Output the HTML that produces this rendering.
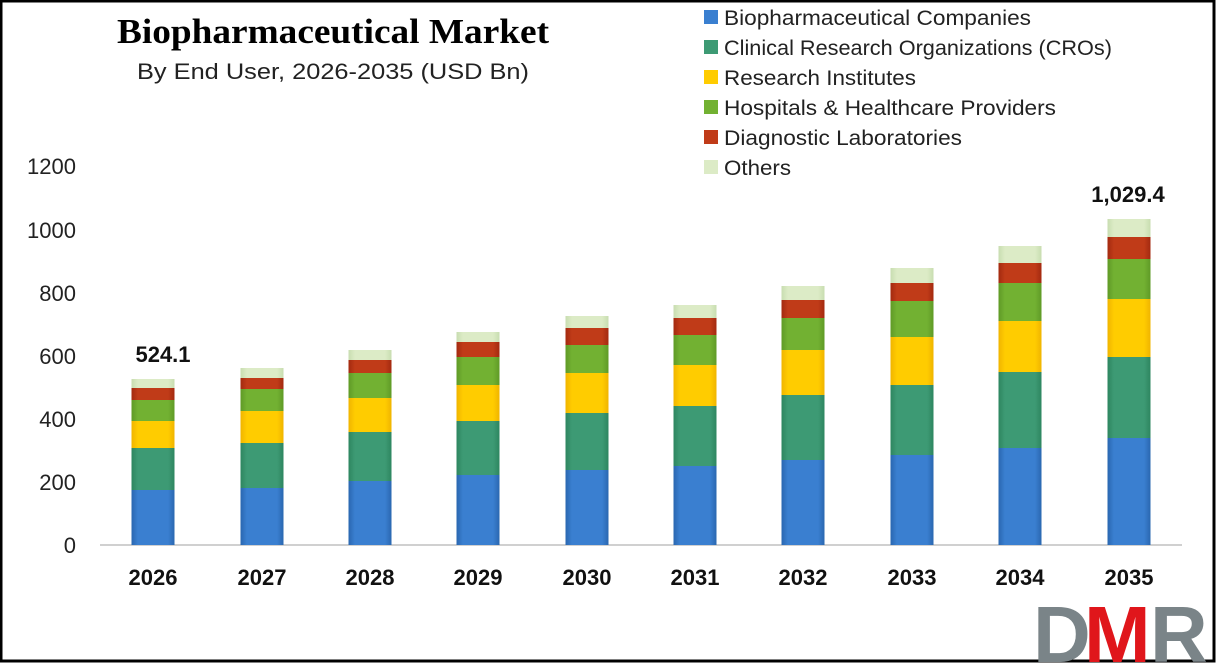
<!DOCTYPE html>
<html><head><meta charset="utf-8"><style>
html,body{margin:0;padding:0;background:#fff}
svg{display:block}
text{font-family:"Liberation Sans",sans-serif}
</style></head><body>
<svg width="1216" height="663" viewBox="0 0 1216 663" xmlns="http://www.w3.org/2000/svg">
<defs>
<linearGradient id="g0" x1="0" x2="1"><stop offset="0" stop-color="#2a67b0"/><stop offset=".15" stop-color="#3a7fd0"/><stop offset=".85" stop-color="#3a7fd0"/><stop offset="1" stop-color="#2a67b0"/></linearGradient>
<linearGradient id="g1" x1="0" x2="1"><stop offset="0" stop-color="#2e8660"/><stop offset=".15" stop-color="#3d9a74"/><stop offset=".85" stop-color="#3d9a74"/><stop offset="1" stop-color="#2e8660"/></linearGradient>
<linearGradient id="g2" x1="0" x2="1"><stop offset="0" stop-color="#f0b400"/><stop offset=".15" stop-color="#ffcc00"/><stop offset=".85" stop-color="#ffcc00"/><stop offset="1" stop-color="#f0b400"/></linearGradient>
<linearGradient id="g3" x1="0" x2="1"><stop offset="0" stop-color="#5f9a26"/><stop offset=".15" stop-color="#72b132"/><stop offset=".85" stop-color="#72b132"/><stop offset="1" stop-color="#5f9a26"/></linearGradient>
<linearGradient id="g4" x1="0" x2="1"><stop offset="0" stop-color="#a32a10"/><stop offset=".15" stop-color="#c03b18"/><stop offset=".85" stop-color="#c03b18"/><stop offset="1" stop-color="#a32a10"/></linearGradient>
<linearGradient id="g5" x1="0" x2="1"><stop offset="0" stop-color="#c8ddb0"/><stop offset=".15" stop-color="#dcebc6"/><stop offset=".85" stop-color="#dcebc6"/><stop offset="1" stop-color="#c8ddb0"/></linearGradient>
</defs>
<rect x="1" y="1" width="1213" height="660" fill="#fff" stroke="#000" stroke-width="3"/>
<text x="117" y="43" textLength="432" lengthAdjust="spacingAndGlyphs" font-weight="bold" font-size="35" style="font-family:'Liberation Serif',serif">Biopharmaceutical Market</text>
<text x="137" y="79" textLength="392" lengthAdjust="spacingAndGlyphs" font-size="22" fill="#222">By End User, 2026-2035 (USD Bn)</text>
<g font-size="21" fill="#222">
<rect x="704" y="10" width="14" height="14" fill="#3a7fd0"/><text x="724" y="25" textLength="307" lengthAdjust="spacingAndGlyphs">Biopharmaceutical Companies</text>
<rect x="704" y="40" width="14" height="14" fill="#3d9a74"/><text x="724" y="55" textLength="388" lengthAdjust="spacingAndGlyphs">Clinical Research Organizations (CROs)</text>
<rect x="704" y="70" width="14" height="14" fill="#ffcc00"/><text x="724" y="85" textLength="192" lengthAdjust="spacingAndGlyphs">Research Institutes</text>
<rect x="704" y="100" width="14" height="14" fill="#72b132"/><text x="724" y="115" textLength="332" lengthAdjust="spacingAndGlyphs">Hospitals &amp; Healthcare Providers</text>
<rect x="704" y="130" width="14" height="14" fill="#c03b18"/><text x="724" y="145" textLength="238" lengthAdjust="spacingAndGlyphs">Diagnostic Laboratories</text>
<rect x="704" y="160" width="14" height="14" fill="#dcebc6"/><text x="724" y="175" textLength="67" lengthAdjust="spacingAndGlyphs">Others</text>
</g>
<g font-size="22" fill="#222" text-anchor="end">
<text x="76" y="553">0</text><text x="76" y="490">200</text><text x="76" y="427">400</text><text x="76" y="364">600</text><text x="76" y="301">800</text><text x="76" y="238">1000</text><text x="76" y="174">1200</text>
</g>
<line x1="100" y1="545" x2="1182" y2="545" stroke="#d0d0d0" stroke-width="2"/>
<g>
<rect x="131.5" y="490" width="43" height="55" fill="url(#g0)"/><rect x="131.5" y="448" width="43" height="42" fill="url(#g1)"/><rect x="131.5" y="421" width="43" height="27" fill="url(#g2)"/><rect x="131.5" y="400" width="43" height="21" fill="url(#g3)"/><rect x="131.5" y="388" width="43" height="12" fill="url(#g4)"/><rect x="131.5" y="379" width="43" height="9" fill="url(#g5)"/>
<rect x="240.5" y="488" width="43" height="57" fill="url(#g0)"/><rect x="240.5" y="443" width="43" height="45" fill="url(#g1)"/><rect x="240.5" y="411" width="43" height="32" fill="url(#g2)"/><rect x="240.5" y="389" width="43" height="22" fill="url(#g3)"/><rect x="240.5" y="378" width="43" height="11" fill="url(#g4)"/><rect x="240.5" y="368" width="43" height="10" fill="url(#g5)"/>
<rect x="348.5" y="481" width="43" height="64" fill="url(#g0)"/><rect x="348.5" y="432" width="43" height="49" fill="url(#g1)"/><rect x="348.5" y="398" width="43" height="34" fill="url(#g2)"/><rect x="348.5" y="373" width="43" height="25" fill="url(#g3)"/><rect x="348.5" y="360" width="43" height="13" fill="url(#g4)"/><rect x="348.5" y="350" width="43" height="10" fill="url(#g5)"/>
<rect x="456.5" y="475" width="43" height="70" fill="url(#g0)"/><rect x="456.5" y="421" width="43" height="54" fill="url(#g1)"/><rect x="456.5" y="385" width="43" height="36" fill="url(#g2)"/><rect x="456.5" y="357" width="43" height="28" fill="url(#g3)"/><rect x="456.5" y="342" width="43" height="15" fill="url(#g4)"/><rect x="456.5" y="332" width="43" height="10" fill="url(#g5)"/>
<rect x="565.5" y="470" width="43" height="75" fill="url(#g0)"/><rect x="565.5" y="413" width="43" height="57" fill="url(#g1)"/><rect x="565.5" y="373" width="43" height="40" fill="url(#g2)"/><rect x="565.5" y="345" width="43" height="28" fill="url(#g3)"/><rect x="565.5" y="328" width="43" height="17" fill="url(#g4)"/><rect x="565.5" y="316" width="43" height="12" fill="url(#g5)"/>
<rect x="673.5" y="466" width="43" height="79" fill="url(#g0)"/><rect x="673.5" y="406" width="43" height="60" fill="url(#g1)"/><rect x="673.5" y="365" width="43" height="41" fill="url(#g2)"/><rect x="673.5" y="335" width="43" height="30" fill="url(#g3)"/><rect x="673.5" y="318" width="43" height="17" fill="url(#g4)"/><rect x="673.5" y="305" width="43" height="13" fill="url(#g5)"/>
<rect x="781.5" y="460" width="43" height="85" fill="url(#g0)"/><rect x="781.5" y="395" width="43" height="65" fill="url(#g1)"/><rect x="781.5" y="350" width="43" height="45" fill="url(#g2)"/><rect x="781.5" y="318" width="43" height="32" fill="url(#g3)"/><rect x="781.5" y="300" width="43" height="18" fill="url(#g4)"/><rect x="781.5" y="286" width="43" height="14" fill="url(#g5)"/>
<rect x="890.5" y="455" width="43" height="90" fill="url(#g0)"/><rect x="890.5" y="385" width="43" height="70" fill="url(#g1)"/><rect x="890.5" y="337" width="43" height="48" fill="url(#g2)"/><rect x="890.5" y="301" width="43" height="36" fill="url(#g3)"/><rect x="890.5" y="283" width="43" height="18" fill="url(#g4)"/><rect x="890.5" y="268" width="43" height="15" fill="url(#g5)"/>
<rect x="998.5" y="448" width="43" height="97" fill="url(#g0)"/><rect x="998.5" y="372" width="43" height="76" fill="url(#g1)"/><rect x="998.5" y="321" width="43" height="51" fill="url(#g2)"/><rect x="998.5" y="283" width="43" height="38" fill="url(#g3)"/><rect x="998.5" y="263" width="43" height="20" fill="url(#g4)"/><rect x="998.5" y="246" width="43" height="17" fill="url(#g5)"/>
<rect x="1107.5" y="438" width="43" height="107" fill="url(#g0)"/><rect x="1107.5" y="357" width="43" height="81" fill="url(#g1)"/><rect x="1107.5" y="299" width="43" height="58" fill="url(#g2)"/><rect x="1107.5" y="259" width="43" height="40" fill="url(#g3)"/><rect x="1107.5" y="237" width="43" height="22" fill="url(#g4)"/><rect x="1107.5" y="219" width="43" height="18" fill="url(#g5)"/>
</g>
<g font-size="22" font-weight="bold" fill="#111" text-anchor="middle">
<text x="153" y="585">2026</text><text x="262" y="585">2027</text><text x="370" y="585">2028</text><text x="478" y="585">2029</text><text x="587" y="585">2030</text><text x="695" y="585">2031</text><text x="803" y="585">2032</text><text x="912" y="585">2033</text><text x="1020" y="585">2034</text><text x="1129" y="585">2035</text>
<text x="163" y="362">524.1</text>
<text x="1128" y="202">1,029.4</text>
</g>
<g font-weight="bold" font-size="80">
<text x="1033" y="662" fill="#7a8488">D</text>
<text x="1084" y="662" fill="#e0161b">M</text>
<text x="1150" y="662" fill="#7a8488">R</text>
</g>
</svg>
</body></html>
